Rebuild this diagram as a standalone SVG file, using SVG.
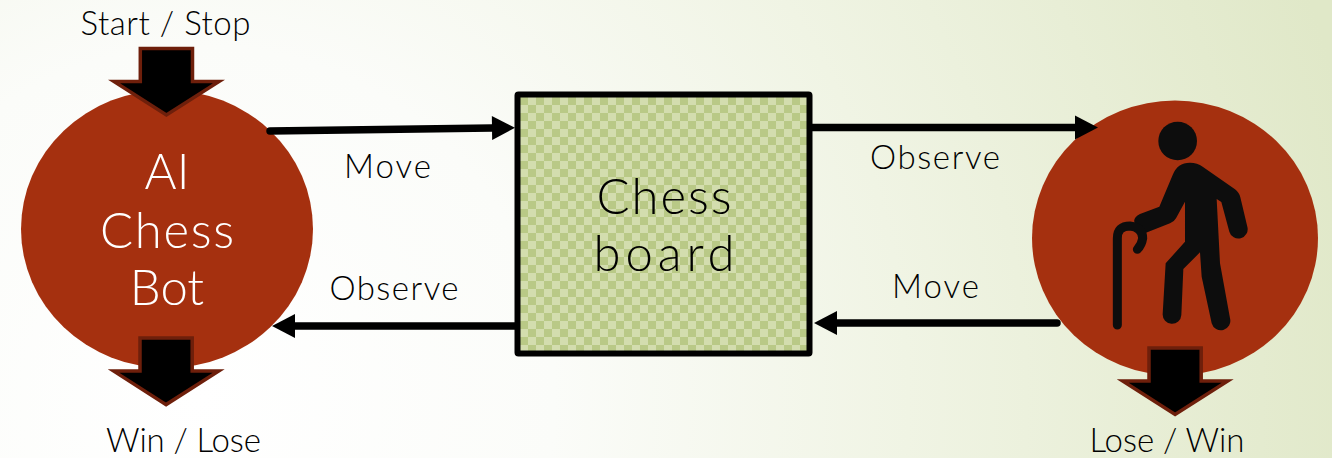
<svg xmlns="http://www.w3.org/2000/svg" xmlns:xlink="http://www.w3.org/1999/xlink" width="1332" height="458" viewBox="0 0 1332 458">
<style>
text{font-family:"Lato","Open Sans","Liberation Sans",sans-serif;font-weight:300;text-anchor:middle;fill:#000}
.big{font-size:49px}
.lab{font-size:33px}
.white{fill:#fff}
.disc{fill:#a5300f}
.line{stroke:#000;stroke-width:7.5;stroke-linecap:round;fill:none}
.block{fill:#000;stroke:#6e1f0b;stroke-width:3.5;stroke-miterlimit:10}
</style>
<defs>
<radialGradient id="bg" gradientUnits="userSpaceOnUse" cx="200" cy="400" r="1180">
<stop offset="0" stop-color="#ffffff"/><stop offset="0.3" stop-color="#fbfcf9"/><stop offset="0.6" stop-color="#f0f4e4"/><stop offset="1" stop-color="#e0e8c8"/>
</radialGradient>
<pattern id="check" patternUnits="userSpaceOnUse" x="520" y="97" width="16" height="16">
<rect width="16" height="16" fill="#d3ddae"/>
<rect width="8" height="8" fill="#b9c986"/>
<rect x="8" y="8" width="8" height="8" fill="#b9c986"/>
</pattern>
<marker id="head" markerUnits="userSpaceOnUse" markerWidth="24" markerHeight="24" refX="0" refY="12" orient="auto" overflow="visible">
<path d="M0 0L23 12L0 24Z" fill="#000"/>
</marker>
<path id="downArrow" d="M31.3 1.8H83.5V34.8H110L57.4 68.300L5 34.8H31.3Z"/>
</defs>
<rect id="background" width="1332" height="458" fill="url(#bg)"/>
<g id="node-ai-bot">
<ellipse class="disc" cx="167" cy="229" rx="146" ry="139"/>
<text class="big white" x="167" y="189">AI</text>
<text class="big white" x="167" y="248" textLength="134" lengthAdjust="spacing">Chess</text>
<text class="big white" x="167" y="305">Bot</text>
</g>
<g id="node-player">
<ellipse class="disc" cx="1175" cy="238" rx="143" ry="137.500"/>
<g id="player-icon" transform="translate(1020 90) scale(.33333)" fill="#0d0d0d">
<circle cx="473" cy="153" r="58"/>
<path d="M510 218Q532 218 548 230L645 298Q658 308 661 322L682 410A28 28 0 0 1 628 425L604 336L590 327L600 520L630 685A28 28 0 0 1 575 700L545 560L540 487L490 537L484 675A28 28 0 0 1 428 672L437 520L495 455V335L468 385Q462 396 450 400L378 428L345 402Q336 384 360 372L418 350L458 255Q472 218 510 218Z"/>
<path d="M292 705V445Q292 408 330 408Q368 412 368 445Q365 465 352 478" fill="none" stroke="#0d0d0d" stroke-width="27" stroke-linecap="round"/>
</g>
</g>
<g id="node-board">
<rect x="517.500" y="94.500" width="292" height="259" rx="1" fill="url(#check)" stroke="#000" stroke-width="6"/>
<text class="big" x="664" y="214" textLength="135" lengthAdjust="spacing">Chess</text>
<text class="big" x="664" y="271" textLength="141" lengthAdjust="spacing">board</text>
</g>
<g id="connectors">
<line class="line" x1="270" y1="131" x2="492" y2="128" marker-end="url(#head)"/>
<line class="line" x1="516" y1="326" x2="295" y2="326" marker-end="url(#head)"/>
<line class="line" x1="812" y1="127.500" x2="1075" y2="127.500" marker-end="url(#head)"/>
<line class="line" x1="1057" y1="323" x2="837" y2="323" marker-end="url(#head)"/>
<use xlink:href="#downArrow" href="#downArrow" class="block" transform="translate(109 46.700)"/>
<use xlink:href="#downArrow" href="#downArrow" class="block" transform="translate(108.700 336.300)"/>
<use xlink:href="#downArrow" href="#downArrow" class="block" transform="translate(1117.700 346.200)"/>
</g>
<g id="labels">
<text class="lab" x="165.500" y="35" textLength="170" lengthAdjust="spacing">Start / Stop</text>
<text class="lab" x="183.500" y="451.500" textLength="155" lengthAdjust="spacing">Win / Lose</text>
<text class="lab" x="1167" y="451.500" textLength="155" lengthAdjust="spacing">Lose / Win</text>
<text class="lab" x="387.500" y="178" textLength="87" lengthAdjust="spacing">Move</text>
<text class="lab" x="394" y="300" textLength="129" lengthAdjust="spacing">Observe</text>
<text class="lab" x="935" y="169" textLength="130" lengthAdjust="spacing">Observe</text>
<text class="lab" x="935.500" y="298" textLength="87" lengthAdjust="spacing">Move</text>
</g>
</svg>
